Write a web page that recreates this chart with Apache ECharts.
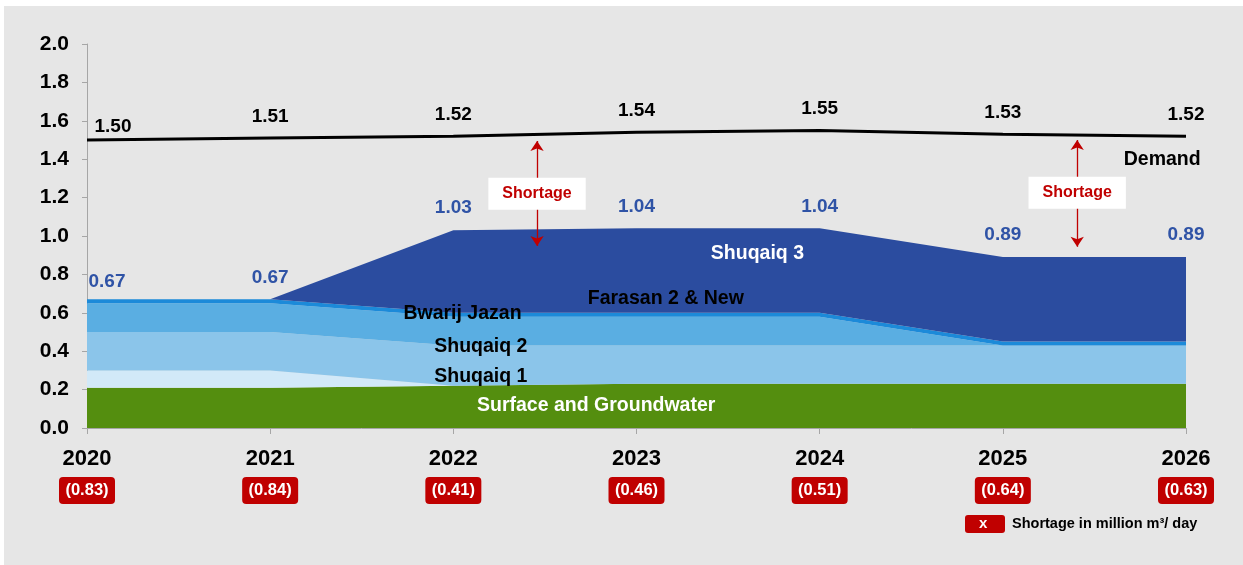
<!DOCTYPE html>
<html>
<head>
<meta charset="utf-8">
<script src="https://cdn.jsdelivr.net/npm/echarts@6/dist/echarts.min.js"></script>
<style>
  html, body { margin: 0; padding: 0; background: #ffffff; }
  #chart { width: 1243px; height: 565px; }
</style>
</head>
<body>
<div id="chart"></div>
<script>
// Water supply and demand, million m3/day
const years = ['2020', '2021', '2022', '2023', '2024', '2025', '2026'];
const demand = [1.50, 1.51, 1.52, 1.54, 1.55, 1.53, 1.52];
const surfaceGroundwater = [0.21, 0.21, 0.22, 0.23, 0.23, 0.23, 0.23];
const shuqaiq1 = [0.09, 0.09, 0.00, 0.00, 0.00, 0.00, 0.00];
const shuqaiq2 = [0.20, 0.20, 0.21, 0.20, 0.20, 0.20, 0.20];
const bwarijJazan = [0.15, 0.15, 0.15, 0.15, 0.15, 0.00, 0.00];
const farasan = [0.02, 0.02, 0.02, 0.02, 0.02, 0.02, 0.02];
const shuqaiq3 = [0.00, 0.00, 0.43, 0.44, 0.44, 0.44, 0.44];
const supplyTotals = [0.67, 0.67, 1.03, 1.04, 1.04, 0.89, 0.89];
const shortages = ['(0.83)', '(0.84)', '(0.41)', '(0.46)', '(0.51)', '(0.64)', '(0.63)'];

// Text annotations: [position along the year axis (0 = 2020), value, text, colour]
const layerLabels = [
  [3.66, 0.91, 'Shuqaiq 3', '#ffffff'],
  [3.16, 0.672, 'Farasan 2 & New', '#000000'],
  [2.05, 0.594, 'Bwarij Jazan', '#000000'],
  [2.15, 0.422, 'Shuqaiq 2', '#000000'],
  [2.15, 0.266, 'Shuqaiq 1', '#000000'],
  [2.78, 0.115, 'Surface and Groundwater', '#ffffff'],
  [5.87, 1.396, 'Demand', '#000000']
];
// Shortage gap markers: [position, top, bottom, box value]
const gapMarkers = [
  [2.457, 1.495, 0.948, 1.22],
  [5.406, 1.50, 0.944, 1.225]
];

const FONT = '"Liberation Sans", Arial, sans-serif';
const RED = '#c00000';
const BLUE_TEXT = '#2f53a6';
const HIDDEN_POINT = { color: 'transparent', opacity: 1 };

function areaSeries(name, data, color) {
  return {
    name: name,
    type: 'line',
    stack: 'supply',
    data: data,
    symbol: 'none',
    lineStyle: { width: 0 },
    areaStyle: { color: color, opacity: 1 },
    silent: true,
    z: 2
  };
}

const chart = echarts.init(document.getElementById('chart'), null, { renderer: 'canvas' });

chart.setOption({
  backgroundColor: '#ffffff',
  animation: false,
  textStyle: { fontFamily: FONT },
  graphic: [
    { type: 'rect', left: 4, top: 6, shape: { width: 1239, height: 559 }, style: { fill: '#e6e6e6' }, z: -10 },
    // legend for the shortage boxes
    { type: 'rect', left: 965, top: 515, shape: { width: 40, height: 18, r: 3 }, style: { fill: RED }, z: 10 },
    { type: 'text', left: 979, top: 516, style: { text: 'x', fill: '#ffffff', font: 'bold 15px ' + FONT }, z: 11 },
    { type: 'text', left: 1012, top: 516, style: { text: 'Shortage in million m\u00b3/ day', fill: '#000000', font: 'bold 14.5px ' + FONT }, z: 11 }
  ],
  grid: { left: 87, right: 57, top: 44, bottom: 137 },
  xAxis: [
    {
      type: 'category',
      data: years,
      boundaryGap: false,
      axisLine: { lineStyle: { color: '#a6a6a6', width: 1 } },
      axisTick: { length: 6, lineStyle: { color: '#a6a6a6' } },
      axisLabel: {
        margin: 7,
        interval: 0,
        formatter: function (v, i) { return '{yr|' + v + '}\n{box|' + shortages[i] + '}'; },
        rich: {
          yr: { fontFamily: FONT, fontWeight: 'bold', fontSize: 22, color: '#000', lineHeight: 47 },
          box: {
            fontFamily: FONT, fontWeight: 'bold', fontSize: 16.5, color: '#fff',
            backgroundColor: RED, borderRadius: 4, width: 44, align: 'center',
            padding: [5, 6], lineHeight: 17
          }
        }
      }
    },
    { type: 'value', min: 0, max: 6, show: false }
  ],
  yAxis: {
    type: 'value',
    min: 0,
    max: 2,
    interval: 0.2,
    splitLine: { show: false },
    axisLine: { show: true, lineStyle: { color: '#a6a6a6', width: 1 } },
    axisTick: { show: true, length: 5, lineStyle: { color: '#a6a6a6' } },
    axisLabel: {
      margin: 18,
      fontFamily: FONT, fontWeight: 'bold', fontSize: 21, color: '#000',
      formatter: function (v) { return v.toFixed(1); }
    }
  },
  series: [
    areaSeries('Surface and Groundwater', surfaceGroundwater, '#548e0f'),
    areaSeries('Shuqaiq 1', shuqaiq1, '#d2e9f8'),
    areaSeries('Shuqaiq 2', shuqaiq2, '#8bc5ea'),
    areaSeries('Bwarij Jazan', bwarijJazan, '#5aaee2'),
    areaSeries('Farasan 2 & New', farasan, '#1c8ad9'),
    areaSeries('Shuqaiq 3', shuqaiq3, '#2b4c9f'),
    {
      name: 'Supply total',
      type: 'scatter',
      data: supplyTotals,
      symbolSize: 1,
      itemStyle: HIDDEN_POINT,
      silent: true,
      z: 5,
      label: {
        show: true, position: 'top', distance: 12,
        fontFamily: FONT, fontWeight: 'bold', fontSize: 19, color: BLUE_TEXT,
        formatter: function (p) { return p.value.toFixed(2); }
      },
      labelLayout: function (p) { return p.dataIndex === 0 ? { dx: 20, dy: 4 } : {}; }
    },
    {
      name: 'Demand',
      type: 'line',
      data: demand,
      symbol: 'circle',
      symbolSize: 0,
      showSymbol: true,
      lineStyle: { color: '#000000', width: 3 },
      itemStyle: { color: '#000000' },
      silent: true,
      z: 5,
      label: {
        show: true, position: 'top', distance: 12,
        fontFamily: FONT, fontWeight: 'bold', fontSize: 19, color: '#000',
        formatter: function (p) { return p.value.toFixed(2); }
      },
      labelLayout: function (p) { return p.dataIndex === 0 ? { dx: 26, dy: 8 } : {}; }
    },
    {
      name: 'Shortage arrows',
      type: 'lines',
      coordinateSystem: 'cartesian2d',
      xAxisIndex: 1,
      yAxisIndex: 0,
      symbol: ['arrow', 'arrow'],
      symbolSize: [10, 10],
      lineStyle: { color: RED, width: 1.3, opacity: 1 },
      silent: true,
      z: 6,
      data: gapMarkers.map(function (g) { return { coords: [[g[0], g[1]], [g[0], g[2]]] }; })
    },
    {
      name: 'Shortage boxes',
      type: 'scatter',
      xAxisIndex: 1,
      yAxisIndex: 0,
      symbolSize: 1,
      itemStyle: HIDDEN_POINT,
      silent: true,
      z: 8,
      data: gapMarkers.map(function (g) { return [g[0], g[3]]; }),
      label: {
        show: true, position: 'inside',
        formatter: 'Shortage',
        fontFamily: FONT, fontWeight: 'bold', fontSize: 16, color: RED,
        backgroundColor: '#ffffff', padding: [7, 14], lineHeight: 18
      }
    },
    {
      name: 'Layer labels',
      type: 'scatter',
      xAxisIndex: 1,
      yAxisIndex: 0,
      symbolSize: 1,
      itemStyle: HIDDEN_POINT,
      silent: true,
      z: 9,
      data: layerLabels.map(function (l) {
        return {
          value: [l[0], l[1]],
          label: { formatter: l[2], color: l[3] }
        };
      }),
      label: {
        show: true, position: 'inside',
        fontFamily: FONT, fontWeight: 'bold', fontSize: 19.5
      }
    }
  ]
});
</script>
</body>
</html>
